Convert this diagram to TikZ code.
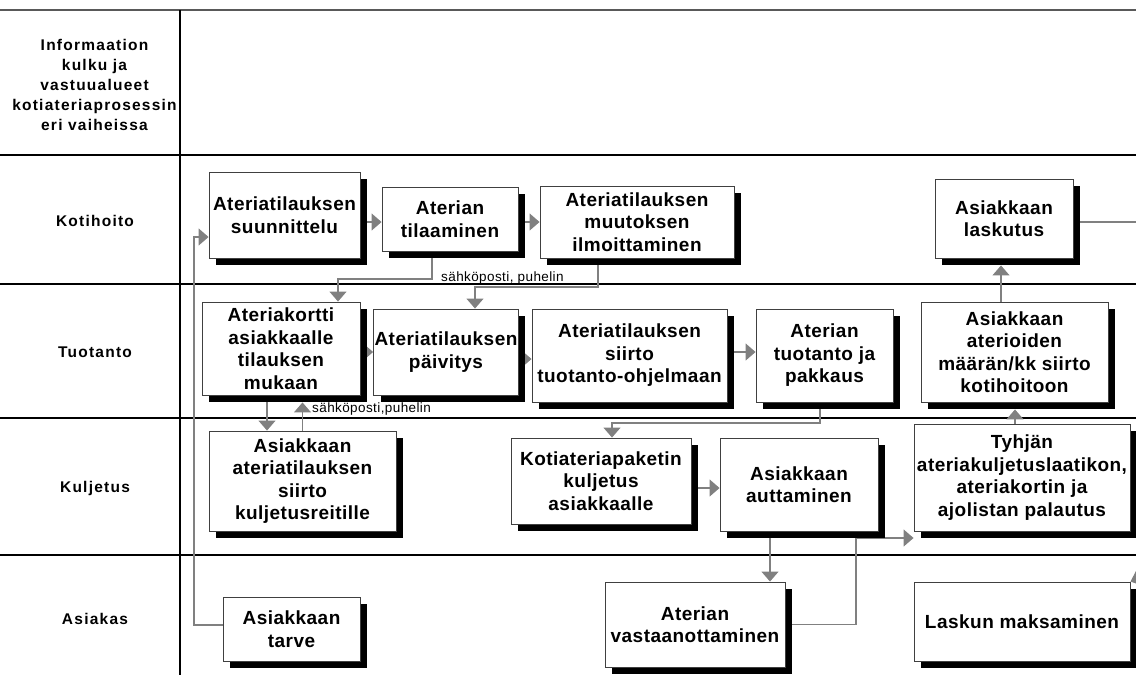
\documentclass[tikz,border=0pt]{standalone}
\usepackage{fontspec}
\setmainfont{Liberation Sans}
\newfontfamily\boxfamily{Liberation Sans}[LetterSpace=2.5]
\newfontfamily\lanefamily{Liberation Sans}[LetterSpace=8]
\newfontfamily\notefamily{Liberation Sans}[LetterSpace=3]
\usetikzlibrary{arrows.meta,shadows,backgrounds}
\definecolor{linkgray}{gray}{0.5}
\definecolor{edgegray}{gray}{0.25}
\definecolor{topgray}{gray}{0.35}
\tikzset{
  task/.style={draw=edgegray, line width=0.9pt, fill=white, align=center, inner sep=1pt,
    font=\boxfamily\bfseries\fontsize{19}{22.5}\selectfont,
    drop shadow={shadow xshift=7pt, shadow yshift=-7pt, fill=black, opacity=1}},
  sz/.style 2 args={minimum width=#1pt, minimum height=#2pt},
  lanelabel/.style={font=\lanefamily\bfseries\fontsize{15.5}{20}\selectfont, align=center},
  note/.style={font=\notefamily\fontsize{13.5}{15}\selectfont, inner sep=0pt},
  link/.style={draw=linkgray, line width=1.3pt},
  conn/.style={link, -{Triangle[length=10pt,width=17pt]}},
  rule/.style={draw=black, line width=1.4pt}
}
\begin{document}
\begin{tikzpicture}[x=1pt, y=-1pt]
\useasboundingbox (0,0) rectangle (1136,675);

% lane headings
\node[lanelabel] (hdr) at (94.5,85) {Informaation\\kulku ja\\vastuualueet\\kotiateriaprosessin\\eri vaiheissa};
\node[lanelabel] (lKoti) at (95,221) {Kotihoito};
\node[lanelabel] (lTuot) at (95,352) {Tuotanto};
\node[lanelabel] (lKulj) at (95,488) {Kuljetus};
\node[lanelabel] (lAsia) at (95,619) {Asiakas};

% Kotihoito
\node[task, sz={151}{86}] (A1) at (284.5,215) {Ateriatilauksen\\suunnittelu};
\node[task, sz={136}{64}] (A2) at (450,219) {Aterian\\tilaaminen};
\node[task, sz={194}{72}] (A3) at (637,222) {Ateriatilauksen\\muutoksen\\ilmoittaminen};
\node[task, sz={138}{79}] (A4) at (1004,218.5) {Asiakkaan\\laskutus};

% Tuotanto
\node[task, sz={158}{93}] (B1) at (281,348.5) {Ateriakortti\\asiakkaalle\\tilauksen\\mukaan};
\node[task, sz={144}{86}] (B2) at (446,352) {Ateriatilauksen\\päivitys};
\node[task, sz={195}{93}] (B3) at (629.5,355.5) {Ateriatilauksen\\siirto\\tuotanto-ohjelmaan};
\node[task, sz={137}{93}] (B4) at (824.5,355.5) {Aterian\\tuotanto ja\\pakkaus};
\node[task, sz={187}{100}] (B5) at (1014.5,352) {Asiakkaan\\aterioiden\\määrän/kk siirto\\kotihoitoon};

% Kuljetus
\node[task, sz={187}{100}] (C1) at (302.5,481) {Asiakkaan\\ateriatilauksen\\siirto\\kuljetusreitille};
\node[task, sz={180}{86}] (C2) at (601,481) {Kotiateriapaketin\\kuljetus\\asiakkaalle};
\node[task, sz={158}{93}] (C3) at (799,484.5) {Asiakkaan\\auttaminen};
\node[task, sz={216}{107}] (C4) at (1022,477.5) {Tyhjän\\ateriakuljetuslaatikon,\\ateriakortin ja\\ajolistan palautus};

% Asiakas
\node[task, sz={137}{64}] (D1) at (291.5,629) {Asiakkaan\\tarve};
\node[task, sz={180}{85}] (D2) at (695,624.5) {Aterian\\vastaanottaminen};
\node[task, sz={216}{79}] (D3) at (1022,621.5) {Laskun maksaminen};

% channel notes
\node[note, anchor=base west] (n1) at (441,281) {sähköposti, puhelin};
\node[note, anchor=base west] (n2) at (312,412) {sähköposti,puhelin};

% routing points
\coordinate (busL) at (194,400);
\coordinate (k1) at (400,279);
\coordinate (k2) at (550,287);
\coordinate (k3) at (700,423);
\coordinate (k4) at (856,600);
\coordinate (exitR) at (1136,222);
\coordinate (offR) at (1170,566);

\begin{scope}[on background layer]
  % swimlane rules
  \draw[line width=1.2pt, draw=topgray] (0,10) -- (1136,10);
  \foreach \yy in {155,284,418,555} \draw[rule] (0,\yy) -- (1136,\yy);
  \draw[rule] (180,10) -- (180,675);

  % flow
  \draw[conn] ([yshift=4pt]D1.west) -| (busL) |- ([yshift=-22pt]A1.west);
  \draw[conn] ([yshift=-7pt]A1.east) -- ([yshift=-3pt]A2.west);
  \draw[conn] ([yshift=-3pt]A2.east) -- (A3.west);
  \draw[conn] ([xshift=-18pt]A2.south) |- (k1) -| ([xshift=57pt]B1.north);
  \draw[conn] ([xshift=-39pt]A3.south) |- (k2) -| ([xshift=29pt]B2.north);
  \draw[conn] ([yshift=-3.5pt]B1.east) -- (B2.west);
  \draw[conn] ([yshift=-7pt]B2.east) -- ([yshift=-3.5pt]B3.west);
  \draw[conn] ([yshift=3.5pt]B3.east) -- ([yshift=3.5pt]B4.west);
  \draw[conn] ([xshift=-4.5pt]B4.south) |- (k3) -| ([xshift=11pt]C2.north);
  \draw[conn] ([xshift=-14pt]B1.south) -- ([xshift=-35.5pt]C1.north);
  \draw[conn] (C1.north) -- ([yshift=-7pt]C1.north |- B1.south);
  \draw[conn] ([yshift=-7pt]C2.east) -- ([yshift=-3.5pt]C3.west);
  \draw[conn] ([xshift=-29pt]C3.south) -- ([xshift=-29pt]C3.south |- D2.north);
  \draw[conn] (D2.east) -| (k4) |- ([yshift=-60.5pt]C4.west);
  \draw[conn] ([xshift=-7pt]C4.north) -- ([xshift=-7pt,yshift=-7pt]C4.north |- B5.south);
  \draw[conn] ([xshift=-13.5pt]B5.north) -- ([xshift=-13.5pt,yshift=-7pt]B5.north |- A4.south);
  \draw[link] ([yshift=-3.5pt]A4.east) -- (exitR);
  \draw[conn] (offR) -- (D3.north east);
\end{scope}
\end{tikzpicture}
\end{document}
